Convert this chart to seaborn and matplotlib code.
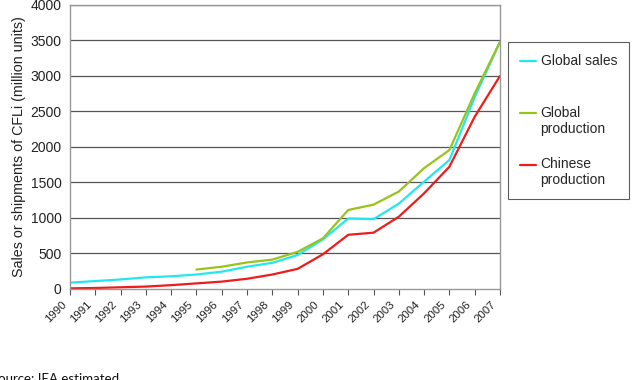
import matplotlib
matplotlib.use("Agg")
import matplotlib.pyplot as plt
import matplotlib.transforms as mtransforms
import seaborn as sns
import pandas as pd

years = [str(y) for y in range(1990, 2008)]
global_sales = [85, 108, 130, 160, 175, 200, 240, 310, 365, 475, 695, 990, 980, 1200, 1510, 1815, 2700, 3480]
global_production = [None, None, None, None, None, 270, 310, 370, 410, 520, 710, 1110, 1185, 1370, 1700, 1955, 2755, 3480]
chinese_production = [5, 10, 20, 30, 50, 75, 100, 140, 200, 280, 485, 760, 790, 1015, 1345, 1720, 2425, 3000]
series_names = ["Global sales", "Global\nproduction", "Chinese\nproduction"]
legend_labels = ["Global sales\n ", "Global\nproduction", "Chinese\nproduction"]
colors = ["#22E8EE", "#99C31A", "#EE1C1C"]
y_ticks = [0, 500, 1000, 1500, 2000, 2500, 3000, 3500, 4000]

sns.set_theme(style="white")
plt.rcParams['font.family'] = ['Liberation Sans', 'DejaVu Sans']

rows = []
for name, vals in zip(series_names, [global_sales, global_production, chinese_production]):
    for i, v in enumerate(vals):
        if v is not None:
            rows.append({"idx": i, "value": v, "series": name})
df = pd.DataFrame(rows)

fig = plt.figure(figsize=(6.42, 3.80), dpi=100)
ax = fig.add_axes([70/642, 1-288.7/380, 430/642, 283.7/380])

sns.lineplot(data=df, x="idx", y="value", hue="series", hue_order=series_names,
             palette=colors, linewidth=1.6, ax=ax)

ax.set_xlim(0, len(years)-1)
ax.set_ylim(0, 4000)
ax.set_yticks(y_ticks)
ax.set_yticklabels([str(t) for t in y_ticks], fontsize=10, color="#222222")
ax.set_xticks(range(len(years)))
ax.set_xticklabels(years, rotation=45, ha="right", rotation_mode="anchor", fontsize=8.2, color="#222222")
ax.tick_params(axis="x", which="both", bottom=True, length=4, width=0.8, color="#555555", pad=4)
ax.tick_params(axis="y", length=0, pad=6)
shift = mtransforms.ScaledTranslation(-0.09, 0.0, fig.dpi_scale_trans)
for lab in ax.get_xticklabels():
    lab.set_transform(lab.get_transform() + shift)
for t in y_ticks[1:]:
    ax.axhline(t, color="#555555", linewidth=0.9, zorder=0)
for s in ax.spines.values():
    s.set_color("#999999")
    s.set_linewidth(1.0)
ax.set_xlabel("")
ax.set_ylabel("Sales or shipments of CFLi (million units)", fontsize=10.3, color="#222222", labelpad=3)

handles, _ = ax.get_legend_handles_labels()
leg = ax.legend(handles, legend_labels, loc="upper left", bbox_to_anchor=(1.0186, 0.8696), borderaxespad=0,
                fontsize=10, frameon=True, fancybox=False, handlelength=1.2,
                handletextpad=0.3, labelspacing=1.55, borderpad=0.85)
leg.get_frame().set_edgecolor("#333333")
leg.get_frame().set_linewidth(0.8)
for line in leg.get_lines():
    line.set_linewidth(1.6)
    yd = line.get_ydata()
    line.set_ydata([y + 5.8 for y in yd])

fig.text(-0.014, -0.012, "Source: IEA estimated", fontsize=9.5, family=["Lato", "DejaVu Sans"],
         color="#111111", ha="left", va="bottom")

fig.savefig("out.png", dpi=100)
